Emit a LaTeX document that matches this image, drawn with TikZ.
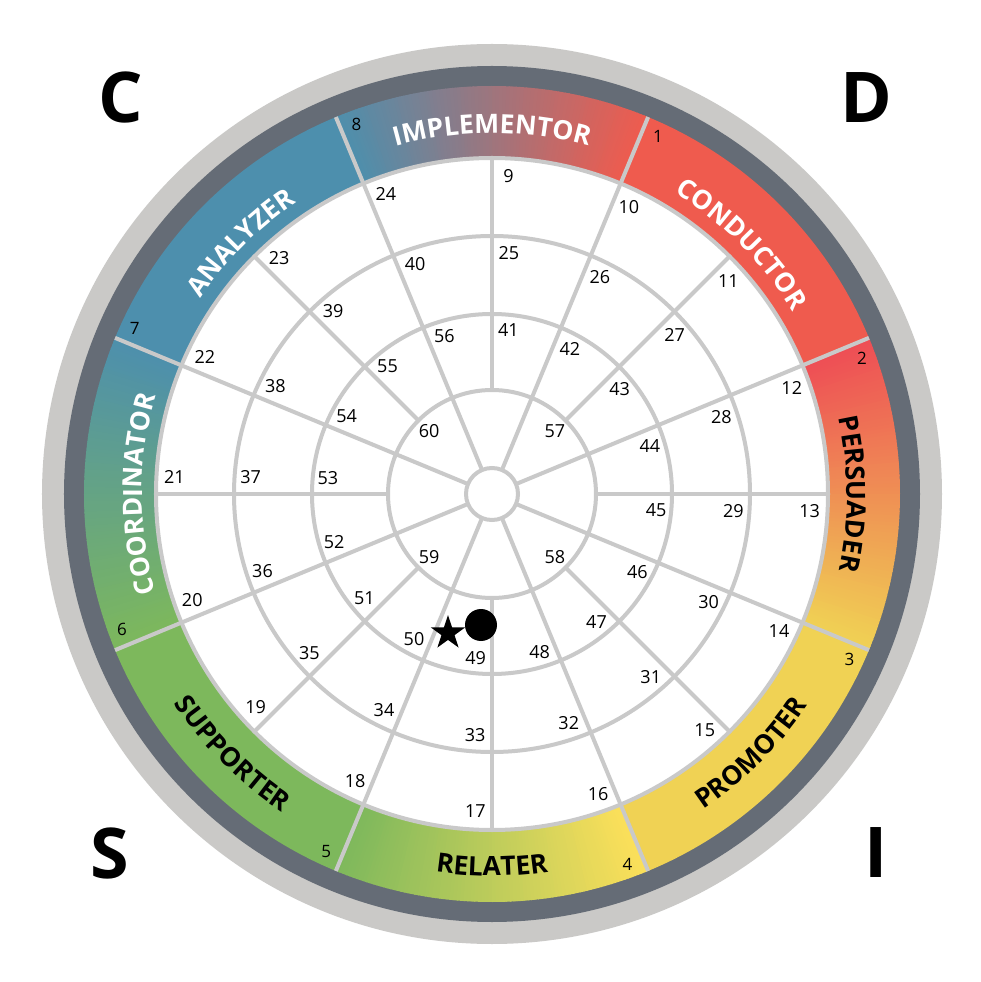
\documentclass[tikz,border=0pt]{standalone}
\usepackage{fontspec}
\setmainfont{Open Sans}
\usetikzlibrary{decorations.text}
\definecolor{ringlight}{HTML}{CAC9C7}
\definecolor{ringdark}{HTML}{656C76}
\definecolor{spokegray}{HTML}{C9C9C9}
\definecolor{cblue}{HTML}{4D8FAD}
\definecolor{cred}{HTML}{EF5B4E}
\definecolor{cpink}{HTML}{EE4D55}
\definecolor{cyellow}{HTML}{F0D254}
\definecolor{cyellowb}{HTML}{FDE05A}
\definecolor{cgreen}{HTML}{7DB85C}
\newcommand\bandfont{\bfseries\fontsize{26.5}{26.5}\selectfont}
\newcommand\gradseg[3]{%
  \foreach \i in {0,...,89} {
    \pgfmathsetmacro\aa{#1+0.5*\i}
    \pgfmathsetmacro\bb{\aa+0.65}
    \pgfmathsetmacro\pp{int(round(100-100*(\i+0.5)/90))}
    \colorlet{segcol}{#2!\pp!#3}
    \fill[segcol] (\aa:336) arc[start angle=\aa,end angle=\bb,radius=336]
      -- (\bb:408) arc[start angle=\bb,end angle=\aa,radius=408] -- cycle;
  }}
\newcommand\solidseg[3]{%
  \fill[#3] (#1:336) arc[start angle=#1,end angle=#2,radius=336]
    -- (#2:408) arc[start angle=#2,end angle=#1,radius=408] -- cycle;}
\newcommand\bandtext[5]{%
  \path[decorate, decoration={text along path, text align=center, text color=#4,
     text={|\bandfont|#5}}] (#1:#3) arc[start angle=#1, end angle=#2, radius=#3];}
\begin{document}
\begin{tikzpicture}[x=1pt,y=1pt,
  spokeline/.style={draw=spokegray, line width=4pt},
  numlbl/.style={font=\fontsize{18}{18}\selectfont, inner sep=0pt, text=black},
  bandnum/.style={font=\fontsize{17}{17}\selectfont, inner sep=0pt, text=black},
  corner/.style={font=\bfseries\fontsize{70}{70}\selectfont, inner sep=0pt, text=black}]
\fill[white] (-492,-488) rectangle (488,494);
\useasboundingbox (-492,-488) rectangle (488,494);
% outer rings
\fill[ringlight] (0,0) circle[radius=450];
\fill[ringdark] (0,0) circle[radius=428];
% band segments
\solidseg{22.5}{67.5}{cred}
\solidseg{-67.5}{-22.5}{cyellow}
\solidseg{-157.5}{-112.5}{cgreen}
\solidseg{112.5}{157.5}{cblue}
\gradseg{67.5}{cred}{cblue}
\gradseg{-22.5}{cyellow}{cpink}
\gradseg{-112.5}{cgreen}{cyellowb}
\gradseg{157.5}{cblue}{cgreen}
% white interior
\fill[white] (0,0) circle[radius=336];
% circles
\foreach \r in {26,104,180,258,336} \draw[spokeline] (0,0) circle[radius=\r];
% spokes
\foreach \a in {22.5,67.5,...,337.5} \draw[spokeline] (\a:26) -- (\a:408);
\foreach \a in {0,45,...,315} \draw[spokeline] (\a:104) -- (\a:336);
% band texts
\bandtext{112.5}{67.5}{361}{white}{IMPLEMENTOR}
\bandtext{67.5}{22.5}{352}{white}{CONDUCTOR}
\bandtext{22.5}{-22.5}{355}{black}{PERSUADER}
\bandtext{202.5}{157.5}{350}{white}{COORDINATOR}
\bandtext{157.5}{112.5}{351}{white}{ANALYZER}
\bandtext{-67.5}{-22.5}{380}{black}{PROMOTER}
\bandtext{-112.5}{-67.5}{382}{black}{RELATER}
\bandtext{-157.5}{-112.5}{381}{black}{SUPPORTER}
% band numbers
\foreach \n in {1,...,8} {
  \pgfmathsetmacro\ang{67.5-45*(\n-1)-2.4}
  \node[bandnum] (b\n) at (\ang:394) {\n};}
% ring numbers
\foreach \n in {9,...,24} {
  \pgfmathsetmacro\ang{90-22.5*(\n-9)-3}
  \node[numlbl] (r\n) at (\ang:318) {\n};}
\foreach \n in {25,...,40} {
  \pgfmathsetmacro\ang{90-22.5*(\n-25)-4}
  \node[numlbl] (r\n) at (\ang:242) {\n};}
\foreach \n in {41,...,56} {
  \pgfmathsetmacro\ang{90-22.5*(\n-41)-5.7}
  \node[numlbl] (r\n) at (\ang:165) {\n};}
\foreach \n in {57,...,60} {
  \pgfmathsetmacro\ang{45-90*(\n-57)}
  \node[numlbl] (r\n) at (\ang:89) {\n};}
% markers
\node[circle, fill=black, minimum size=32pt, inner sep=0pt] (dot) at (-11,-131) {};
\fill[black, shift={(-44,-139)}] (90:18) -- (126:6.9) -- (162:18) -- (198:6.9) -- (234:18)
  -- (270:6.9) -- (306:18) -- (342:6.9) -- (18:18) -- (54:6.9) -- cycle;
% corner letters
\node[corner] (cC) at (-371,396) {C};
\node[corner] (cD) at (374,396.5) {D};
\node[corner] (cS) at (-382,-359) {S};
\node[corner] (cI) at (384,-359) {I};
\end{tikzpicture}
\end{document}
